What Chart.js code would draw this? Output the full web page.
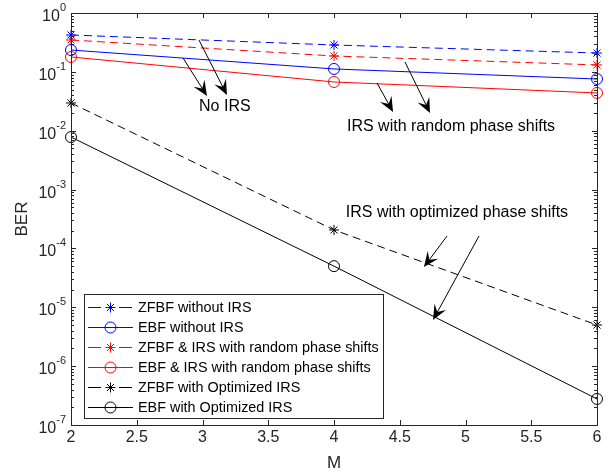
<!DOCTYPE html>
<html>
<head>
<meta charset="utf-8">
<script src="https://cdn.jsdelivr.net/npm/chart.js@4/dist/chart.umd.min.js"></script>
<style>
  html, body { margin: 0; padding: 0; background: #fff; }
  #wrap { width: 611px; height: 474px; }
</style>
</head>
<body>
<div id="wrap"><canvas id="c" width="611" height="474"></canvas></div>
<script>
// values (BER vs M, log scale)
const mValues = [2, 4, 6];
const zfbfNoIrs = [0.423, 0.286, 0.209];
const ebfNoIrs = [0.235, 0.112, 0.0756];
const zfbfRandIrs = [0.348, 0.186, 0.131];
const ebfRandIrs = [0.179, 0.0673, 0.0438];
const zfbfOptIrs = [0.0296, 2.06e-4, 5.0e-6];
const ebfOptIrs = [7.8e-3, 5.0e-5, 2.77e-7];

const xTicks = [2, 2.5, 3, 3.5, 4, 4.5, 5, 5.5, 6];
const yTickExps = [0, -1, -2, -3, -4, -5, -6, -7];

const seriesNames = [
  'ZFBF without IRS',
  'EBF without IRS',
  'ZFBF & IRS with random phase shifts',
  'EBF & IRS with random phase shifts',
  'ZFBF with Optimized IRS',
  'EBF with Optimized IRS',
];

// text labels and arrows, in data coordinates (M, BER)
const noteTexts = [
  { text: 'No IRS', x: 3.17, y: 0.0253 },
  { text: 'IRS with random phase shifts', x: 4.89, y: 0.0116 },
  { text: 'IRS with optimized phase shifts', x: 4.935, y: 4.0e-4 },
];
const noteArrows = [
  { from: [2.852, 0.172], to: [3.034, 0.0389] },
  { from: [2.973, 0.348], to: [3.186, 0.0404] },
  { from: [4.327, 0.0647], to: [4.449, 0.0208] },
  { from: [4.54, 0.147], to: [4.73, 0.020] },
  { from: [4.86, 1.63e-4], to: [4.684, 4.84e-5] },
  { from: [5.103, 1.63e-4], to: [4.753, 6.08e-6] },
];

const FONT = '"Liberation Sans", Arial, Helvetica, sans-serif';
const AXIS_COLOR = '#262626';

function pts(ys) {
  return mValues.map((m, i) => ({ x: m, y: ys[i] }));
}

function mkSet(label, ys, color, dashed, marker) {
  return {
    label: label,
    data: pts(ys),
    borderColor: color,
    backgroundColor: 'rgba(0,0,0,0)',
    pointBorderColor: color,
    pointBackgroundColor: 'rgba(0,0,0,0)',
    borderWidth: 1,
    borderDash: dashed ? [8, 5] : [],
    pointStyle: marker,
    pointRadius: marker === 'star' ? 5 : 5.5,
    pointBorderWidth: 1,
    tension: 0,
    fill: false,
    clip: false,
  };
}

// axes box, inward ticks, tick labels, axis titles
const axesPlugin = {
  id: 'matlabAxes',
  afterDraw(chart) {
    const { ctx, chartArea: a, scales } = chart;
    const xs = scales.x, ys = scales.y;
    ctx.save();
    ctx.strokeStyle = AXIS_COLOR;
    ctx.lineWidth = 1;
    ctx.beginPath();
    xTicks.forEach((t) => {
      const px = Math.round(xs.getPixelForValue(t)) + 0.5;
      ctx.moveTo(px, a.bottom); ctx.lineTo(px, a.bottom - 5);
      ctx.moveTo(px, a.top); ctx.lineTo(px, a.top + 5);
    });
    yTickExps.forEach((e) => {
      const py = Math.round(ys.getPixelForValue(Math.pow(10, e))) + 0.5;
      ctx.moveTo(a.left, py); ctx.lineTo(a.left + 5, py);
      ctx.moveTo(a.right, py); ctx.lineTo(a.right - 5, py);
      if (e < 0) {
        for (let k = 2; k <= 9; k++) {
          const my = Math.round(ys.getPixelForValue(k * Math.pow(10, e))) + 0.5;
          ctx.moveTo(a.left, my); ctx.lineTo(a.left + 3, my);
          ctx.moveTo(a.right, my); ctx.lineTo(a.right - 3, my);
        }
      }
    });
    ctx.stroke();
    ctx.strokeRect(Math.round(a.left) + 0.5, Math.round(a.top) + 0.5,
      Math.round(a.right - a.left), Math.round(a.bottom - a.top));

    ctx.fillStyle = AXIS_COLOR;
    ctx.font = '16px ' + FONT;
    ctx.textAlign = 'center';
    ctx.textBaseline = 'top';
    xTicks.forEach((t) => {
      ctx.fillText(String(t), xs.getPixelForValue(t), a.bottom + 5);
    });

    // y labels: 10 with superscript exponent
    yTickExps.forEach((e) => {
      const py = ys.getPixelForValue(Math.pow(10, e));
      const exp = e === 0 ? '0' : '-' + Math.abs(e);
      ctx.font = '11px ' + FONT;
      const ew = ctx.measureText(exp).width;
      const right = a.left - 5;
      ctx.textAlign = 'left';
      ctx.textBaseline = 'alphabetic';
      ctx.fillText(exp, right - ew, py - 2);
      ctx.font = '16px ' + FONT;
      ctx.textAlign = 'right';
      ctx.fillText('10', right - ew, py + 8);
    });

    ctx.font = '17px ' + FONT;
    ctx.textAlign = 'center';
    ctx.textBaseline = 'middle';
    ctx.fillText('M', (a.left + a.right) / 2, 463);
    ctx.save();
    ctx.translate(22, (a.top + a.bottom) / 2);
    ctx.rotate(-Math.PI / 2);
    ctx.fillText('BER', 0, 0);
    ctx.restore();
    ctx.restore();
  },
};

function drawArrow(ctx, x0, y0, x1, y1) {
  const dx = x1 - x0, dy = y1 - y0;
  const len = Math.hypot(dx, dy);
  const ux = dx / len, uy = dy / len;
  const nx = -uy, ny = ux;
  const L = 15, W = 6.5;
  const bx = x1 - ux * L, by = y1 - uy * L;
  const cx = x1 - ux * L * 0.6, cy = y1 - uy * L * 0.6;
  ctx.beginPath();
  ctx.moveTo(x0, y0);
  ctx.lineTo(cx, cy);
  ctx.stroke();
  ctx.beginPath();
  ctx.moveTo(x1, y1);
  ctx.lineTo(bx + nx * W, by + ny * W);
  ctx.lineTo(cx, cy);
  ctx.lineTo(bx - nx * W, by - ny * W);
  ctx.closePath();
  ctx.fill();
}

// annotations + legend
const notesPlugin = {
  id: 'notes',
  afterDatasetsDraw(chart) {
    const { ctx, scales } = chart;
    const xs = scales.x, ys = scales.y;
    ctx.save();
    ctx.strokeStyle = '#000';
    ctx.fillStyle = '#000';
    ctx.lineWidth = 1;
    noteArrows.forEach((ar) => {
      drawArrow(ctx,
        xs.getPixelForValue(ar.from[0]), ys.getPixelForValue(ar.from[1]),
        xs.getPixelForValue(ar.to[0]), ys.getPixelForValue(ar.to[1]));
    });
    ctx.font = '16px ' + FONT;
    ctx.textAlign = 'center';
    ctx.textBaseline = 'middle';
    noteTexts.forEach((n) => {
      ctx.fillText(n.text, xs.getPixelForValue(n.x), ys.getPixelForValue(n.y));
    });

    // legend box
    const bx = 84.5, by = 294.5, bw = 299, bh = 124;
    ctx.fillStyle = '#fff';
    ctx.fillRect(bx, by, bw, bh);
    ctx.strokeStyle = AXIS_COLOR;
    ctx.strokeRect(bx, by, bw, bh);
    chart.data.datasets.forEach((ds, i) => {
      const ly = 307 + i * 20;
      ctx.strokeStyle = ds.borderColor;
      ctx.lineWidth = 1;
      ctx.setLineDash(ds.borderDash.length ? [13, 18] : []);
      ctx.beginPath();
      ctx.moveTo(88, ly + 0.5);
      ctx.lineTo(133, ly + 0.5);
      ctx.stroke();
      ctx.setLineDash([]);
      ctx.fillStyle = 'rgba(0,0,0,0)';
      Chart.helpers.drawPoint(ctx, {
        pointStyle: ds.pointStyle,
        radius: ds.pointRadius,
        borderWidth: 1,
        rotation: 0,
      }, 110.5, ly + 0.5);
      ctx.fillStyle = '#000';
      ctx.font = '14.4px ' + FONT;
      ctx.textAlign = 'left';
      ctx.textBaseline = 'middle';
      ctx.fillText(ds.label, 138, ly + 1);
    });
    ctx.restore();
  },
};

const ctx = document.getElementById('c').getContext('2d');
new Chart(ctx, {
  type: 'line',
  data: {
    datasets: [
      mkSet(seriesNames[0], zfbfNoIrs, '#0000ff', true, 'star'),
      mkSet(seriesNames[1], ebfNoIrs, '#0000ff', false, 'circle'),
      mkSet(seriesNames[2], zfbfRandIrs, '#ff0000', true, 'star'),
      mkSet(seriesNames[3], ebfRandIrs, '#ff0000', false, 'circle'),
      mkSet(seriesNames[4], zfbfOptIrs, '#000000', true, 'star'),
      mkSet(seriesNames[5], ebfOptIrs, '#000000', false, 'circle'),
    ],
  },
  options: {
    responsive: false,
    animation: false,
    layout: { padding: { left: 71, right: 14, top: 13, bottom: 49 } },
    plugins: { legend: { display: false }, tooltip: { enabled: false } },
    scales: {
      x: { type: 'linear', min: 2, max: 6, display: false },
      y: { type: 'logarithmic', min: 1e-7, max: 1, display: false },
    },
  },
  plugins: [axesPlugin, notesPlugin],
});
</script>
</body>
</html>
